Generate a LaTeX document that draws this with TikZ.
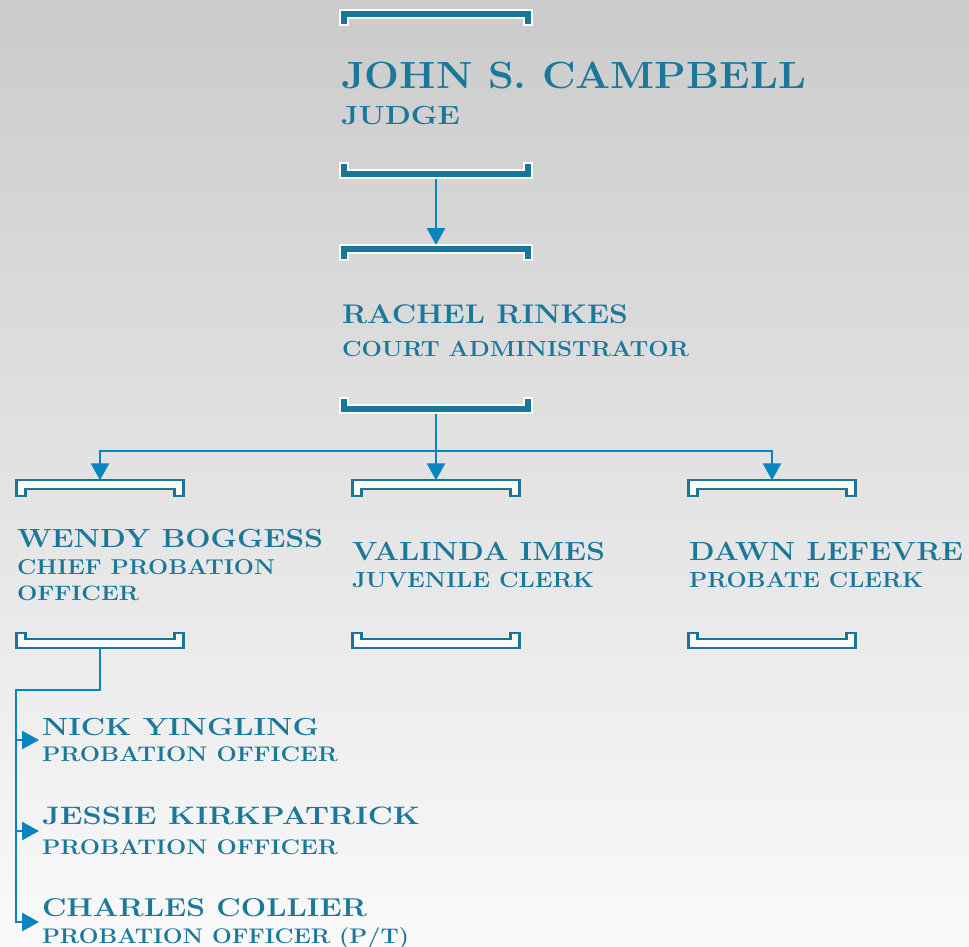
\documentclass[tikz,border=0pt]{standalone}
\usepackage{graphicx}
\usetikzlibrary{arrows.meta}
\definecolor{brk}{RGB}{22,119,153}
\definecolor{txtc}{RGB}{26,120,155}
\definecolor{arr}{RGB}{10,132,192}
\definecolor{bgtop}{RGB}{203,203,203}
\definecolor{bgbot}{RGB}{250,250,250}
\newsavebox\fitA
\newsavebox\fitB
\newcommand\fitline[3]{\sbox\fitA{#3}\sbox\fitB{H}\pgfmathsetmacro\fitsx{#1/\the\wd\fitA}\pgfmathsetmacro\fitsy{#2/\the\ht\fitB}\scalebox{\fitsx}[\fitsy]{\usebox\fitA}}
% bracket opening downwards: #1 node, #2 style, #3 bar thickness, #4 tick width
\newcommand\brkdown[4]{\draw[#2] (#1.north west) -- (#1.north east) -- (#1.south east) -- ([xshift=-#4]#1.south east) -- ([xshift=-#4,yshift=-#3]#1.north east) -- ([xshift=#4,yshift=-#3]#1.north west) -- ([xshift=#4]#1.south west) -- (#1.south west) -- cycle;}
% bracket opening upwards
\newcommand\brkup[4]{\draw[#2] (#1.south west) -- (#1.south east) -- (#1.north east) -- ([xshift=-#4]#1.north east) -- ([xshift=-#4,yshift=#3]#1.south east) -- ([xshift=#4,yshift=#3]#1.south west) -- ([xshift=#4]#1.north west) -- (#1.north west) -- cycle;}
\begin{document}
\begin{tikzpicture}[x=1pt,y=-1pt,
  tealb/.style={fill=brk,draw=white,line width=1.8pt},
  whiteb/.style={fill=white,draw=brk,line width=2.1pt},
  bigb/.style={minimum width=192pt,minimum height=15pt,inner sep=0pt,outer sep=0pt},
  smallb/.style={minimum width=167pt,minimum height=15.5pt,inner sep=0pt,outer sep=0pt},
  ln/.style={draw=arr,line width=2.8pt},
  conn/.style={ln,-{Triangle[width=18pt,length=17pt]}},
  txt/.style={inner sep=0pt,outer sep=0pt,anchor=base west,text=txtc,font=\bfseries\fontsize{30}{30}\selectfont}]
\shade[top color=bgtop,bottom color=bgbot] (0,0) rectangle (969,947);
\useasboundingbox (0,0) rectangle (969,947);

% bracket frames (named)
\node[bigb] (jt) at (436,17.5) {};
\node[bigb] (jb) at (436,170.5) {};
\node[bigb] (rt) at (436,252.5) {};
\node[bigb] (rb) at (436,405.5) {};
\node[smallb] (wt) at (100,488) {};
\node[smallb] (wb) at (100,640.5) {};
\node[smallb] (vt) at (436,488) {};
\node[smallb] (vb) at (436,640.5) {};
\node[smallb] (dt) at (772,488) {};
\node[smallb] (db) at (772,640.5) {};

% connectors
\coordinate (jn) at (436,451);
\coordinate (sp) at (16,690);
\coordinate (s1) at (16,740);
\coordinate (s2) at (16,831);
\coordinate (a1) at (39,740);
\coordinate (a2) at (39,831);
\coordinate (a3) at (39,922);
\draw[conn] (jb.south) -- (rt.north);
\draw[ln] (rb.south) -- (jn);
\draw[conn] (jn) -| (wt.north);
\draw[conn] (jn) -| (dt.north);
\draw[conn] (jn) -- (vt.north);
\draw[conn] (wb.south) |- (sp) |- (a3);
\draw[conn] (s1) -- (a1);
\draw[conn] (s2) -- (a2);

% brackets
\brkdown{jt}{tealb}{8pt}{8pt}
\brkup{jb}{tealb}{8pt}{8pt}
\brkdown{rt}{tealb}{8pt}{8pt}
\brkup{rb}{tealb}{8pt}{8pt}
\brkdown{wt}{whiteb}{9pt}{9pt}
\brkup{wb}{whiteb}{9pt}{9pt}
\brkdown{vt}{whiteb}{9pt}{9pt}
\brkup{vb}{whiteb}{9pt}{9pt}
\brkdown{dt}{whiteb}{9pt}{9pt}
\brkup{db}{whiteb}{9pt}{9pt}

% texts
\node[txt] (t1) at (341,89) {\fitline{465}{26}{JOHN S. CAMPBELL}};
\node[txt] (t2) at (341,125) {\fitline{119}{18}{JUDGE}};
\node[txt] (t3) at (342,323.5) {\fitline{286}{18.5}{RACHEL RINKES}};
\node[txt] (t4) at (342,356) {\fitline{347}{15}{COURT ADMINISTRATOR}};
\node[txt] (t5) at (17,547.3) {\fitline{306}{18}{WENDY BOGGESS}};
\node[txt] (t6) at (17,574) {\fitline{258}{14.7}{CHIEF PROBATION}};
\node[txt] (t7) at (17,600) {\fitline{122}{14.3}{OFFICER}};
\node[txt] (t8) at (352,560.7) {\fitline{253}{18}{VALINDA IMES}};
\node[txt] (t9) at (352,587.7) {\fitline{242}{15}{JUVENILE CLERK}};
\node[txt] (t10) at (689,560.7) {\fitline{274}{18}{DAWN LEFEVRE}};
\node[txt] (t11) at (689,587.7) {\fitline{234}{15}{PROBATE CLERK}};
\node[txt] (t12) at (42,735) {\fitline{277}{17}{NICK YINGLING}};
\node[txt] (t13) at (42,761.7) {\fitline{296}{14.5}{PROBATION OFFICER}};
\node[txt] (t14) at (42,824) {\fitline{378}{17.3}{JESSIE KIRKPATRICK}};
\node[txt] (t15) at (42,854) {\fitline{296}{14.5}{PROBATION OFFICER}};
\node[txt] (t16) at (42,916) {\fitline{325}{17.7}{CHARLES COLLIER}};
\node[txt] (t17) at (42,943) {\fitline{367}{14.5}{PROBATION OFFICER (P/T)}};
\end{tikzpicture}
\end{document}
